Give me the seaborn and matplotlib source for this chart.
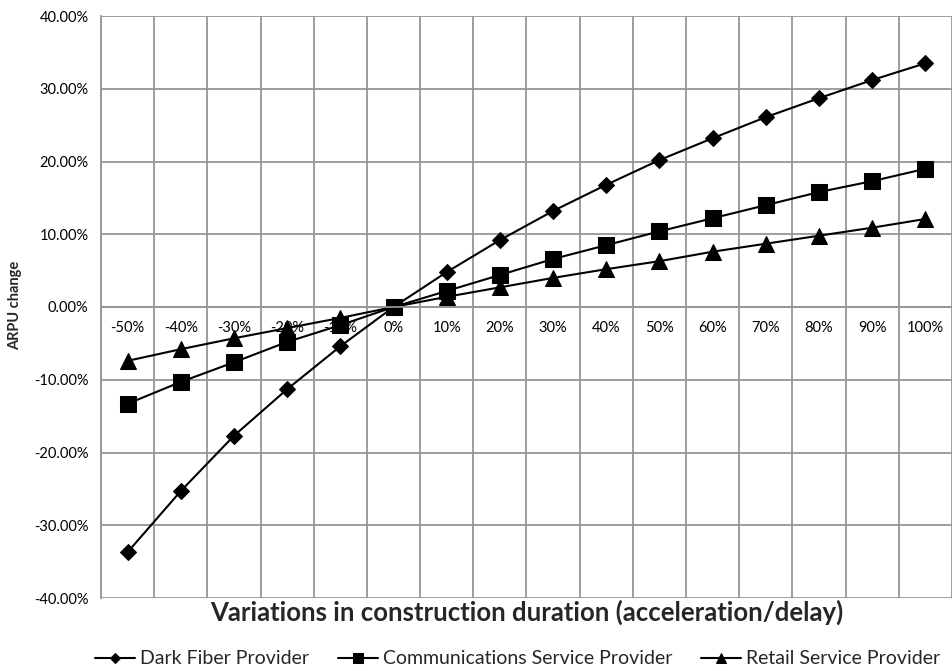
import matplotlib
matplotlib.use("Agg")
import matplotlib.pyplot as plt
import seaborn as sns
import pandas as pd
import numpy as np
from matplotlib.ticker import FuncFormatter, FixedLocator

categories = ["-50%", "-40%", "-30%", "-20%", "-10%", "0%", "10%", "20%", "30%",
              "40%", "50%", "60%", "70%", "80%", "90%", "100%"]
dark_fiber = [-33.7, -25.3, -17.7, -11.3, -5.4, 0.0, 4.8, 9.2, 13.2, 16.8,
              20.2, 23.2, 26.1, 28.7, 31.2, 33.5]
comms = [-13.3, -10.3, -7.6, -4.8, -2.5, 0.0, 2.2, 4.4, 6.6, 8.5,
         10.4, 12.2, 14.0, 15.8, 17.3, 19.0]
retail = [-7.4, -5.8, -4.3, -2.9, -1.5, 0.0, 1.4, 2.7, 4.0, 5.2,
          6.3, 7.6, 8.7, 9.8, 10.9, 12.1]
series_names = ["Dark Fiber Provider", "Communications Service Provider",
                "Retail Service Provider"]
y_ticks = [-40, -30, -20, -10, 0, 10, 20, 30, 40]

rows = []
for name, vals in zip(series_names, [dark_fiber, comms, retail]):
    for i, (c, v) in enumerate(zip(categories, vals)):
        rows.append({"pos": i, "category": c, "value": v, "series": name})
df = pd.DataFrame(rows)

sns.set_theme(style="white")
plt.rcParams["font.family"] = ["Lato", "DejaVu Sans"]

fig = plt.figure(figsize=(9.53, 6.71), dpi=100)
ax = fig.add_axes([101/953, 1-598/671, 851/953, (598-16)/671])

markers = {series_names[0]: "D", series_names[1]: "s", series_names[2]: "^"}
sizes = {series_names[0]: 8.0, series_names[1]: 12, series_names[2]: 12}

sns.lineplot(data=df, x="pos", y="value", style="series", markers=markers,
             dashes=False, color="black", linewidth=1.5, sort=False, ax=ax,
             markeredgecolor="black", legend=False)
for line, name in zip(ax.get_lines(), series_names):
    line.set_markersize(sizes[name])
    line.set_markerfacecolor("black")
    line.set_label(name)

ax.set_xlim(-0.5, len(categories) - 0.5)
ax.set_ylim(-40, 40)

grid_color = "#959595"
ax.set_yticks(y_ticks)
ax.yaxis.set_major_formatter(FuncFormatter(lambda v, p: f"{v:.2f}%"))
ax.set_xticks(range(len(categories)))
ax.set_xticklabels(categories)
ax.xaxis.set_minor_locator(FixedLocator(np.arange(-0.5, len(categories), 1.0)))
ax.grid(True, which="major", axis="y", color=grid_color, linewidth=1.3)
ax.grid(True, which="minor", axis="x", color=grid_color, linewidth=1.3)
ax.grid(False, which="major", axis="x")
ax.set_axisbelow(True)

for s in ["top", "right"]:
    ax.spines[s].set_visible(False)
ax.spines["left"].set_color(grid_color)
ax.spines["left"].set_linewidth(1.3)
ax.spines["bottom"].set_position(("data", 0))
ax.spines["bottom"].set_color(grid_color)
ax.spines["bottom"].set_linewidth(1.3)

ax.tick_params(axis="x", which="both", length=0, labelsize=10.5, pad=10,
               colors="black")
ax.tick_params(axis="y", which="both", length=6, width=1.3, color=grid_color,
               labelsize=10.5, pad=3, labelcolor="black")

ax.set_xlabel("")
ax.set_ylabel("")
fig.text(527/953, 1-612/671, "Variations in construction duration (acceleration/delay)",
         ha="center", va="center", fontsize=18.5, fontweight="bold")
fig.text(15/953, 1-305/671, "ARPU change", rotation=90, ha="center", va="center",
         fontsize=10.5, fontweight="bold")

handles = ax.get_lines()[:3]
fig.legend(handles, series_names, loc="center", bbox_to_anchor=(0.543, 1-659/671),
           ncol=3, frameon=False, fontsize=14, handlelength=2.05,
           columnspacing=1.5, handletextpad=0.25, markerscale=0.6,
           borderpad=0.1)

fig.savefig("out.png", dpi=100, facecolor="white")
